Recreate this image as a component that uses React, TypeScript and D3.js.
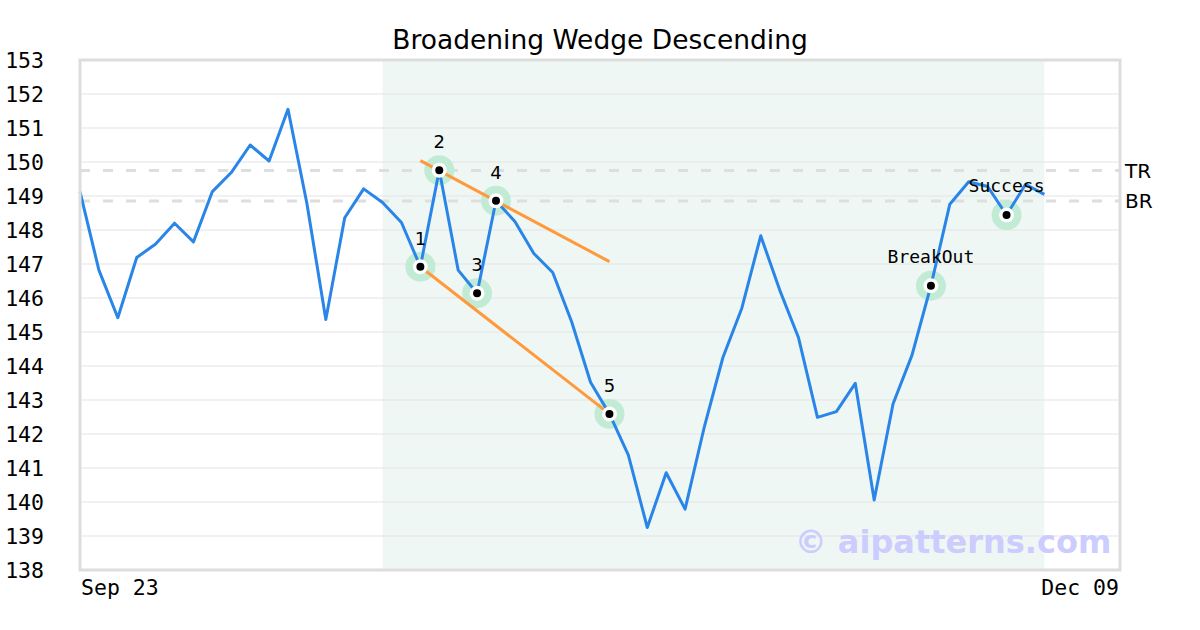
import React from "react";
import * as d3 from "d3";

const title = "Broadening Wedge Descending";
const prices = [
  149.13, 146.82, 145.42, 147.19, 147.59, 148.2, 147.65, 149.13, 149.69, 150.5,
  150.03, 151.55, 148.78, 145.37, 148.36, 149.21, 148.81, 148.22, 146.92, 149.76,
  146.82, 146.14, 148.86, 148.25, 147.31, 146.75, 145.3, 143.52, 142.59, 141.38,
  139.25, 140.86, 139.79, 142.17, 144.25, 145.7, 147.83, 146.24, 144.83, 142.49,
  142.66, 143.49, 140.06, 142.89, 144.32, 146.36, 148.76, 149.42, 149.28, 148.44,
  149.34, 149.05,
];
const totalSlots = 55;
const dateLabels = ["Sep 23", "Dec 09"];
const yTicks = [138, 139, 140, 141, 142, 143, 144, 145, 146, 147, 148, 149, 150, 151, 152, 153];
const highlightRange = [16, 51];
const pivotIdx = [18, 19, 21, 22, 28];
const pivotLabels = ["1", "2", "3", "4", "5"];
const eventIdx = [45, 49];
const eventLabels = ["BreakOut", "Success"];
const upperLine = [
  [18, 150.04],
  [28, 147.07],
];
const lowerLine = [
  [18, 146.92],
  [28, 142.59],
];
const refLevels = [149.75, 148.85];
const refLabels = ["TR", "BR"];

export default function App() {
  const W = 1200,
    H = 630;
  const L = 80,
    R = 1120,
    T = 60,
    B = 570;
  const x = d3.scaleLinear().domain([0, totalSlots]).range([L, R]);
  const y = d3.scaleLinear().domain([138, 153]).range([B, T]);
  const line = d3
    .line<number>()
    .x((_, i) => x(i))
    .y((d) => y(d));
  const seg = d3
    .line<number[]>()
    .x((d) => x(d[0]))
    .y((d) => y(d[1]));
  const sans = "DejaVu Sans, sans-serif";
  const mono = "DejaVu Sans Mono, monospace";
  const markers = [...pivotIdx, ...eventIdx];
  return (
    <svg width={W} height={H} style={{ position: "absolute", left: 0, top: 0, background: "#fff" }}>
      <rect x={0} y={0} width={W} height={H} fill="#fff" />
      <text x={600} y={49} textAnchor="middle" fontFamily={sans} fontSize={26.5} fill="#000">
        {title}
      </text>
      <rect
        x={x(highlightRange[0])}
        y={T}
        width={x(highlightRange[1]) - x(highlightRange[0])}
        height={B - T}
        fill="#eff7f4"
      />
      {yTicks.map((t) => (
        <g key={t}>
          {t !== 138 && t !== 153 && (
            <line x1={L} x2={R} y1={y(t)} y2={y(t)} stroke="#e3e3e3" strokeWidth={1} />
          )}
          <text x={44} y={y(t)} dy="0.35em" textAnchor="end" fontFamily={mono} fontSize={21.5} fill="#000">
            {t}
          </text>
        </g>
      ))}
      {refLevels.map((v, i) => (
        <g key={i}>
          <line
            x1={L}
            x2={R}
            y1={y(v)}
            y2={y(v)}
            stroke="#dedede"
            strokeWidth={3}
            strokeDasharray="10,13"
          />
          <text x={1125} y={y(v)} dy="0.35em" fontFamily={sans} fontSize={20} fill="#000">
            {refLabels[i]}
          </text>
        </g>
      ))}
      <text x={953} y={553} textAnchor="middle" fontFamily={sans} fontWeight="bold" fontSize={32} fill="#ccccff">
        © aipatterns.com
      </text>
      {markers.map((i) => (
        <circle key={"h" + i} cx={x(i)} cy={y(prices[i])} r={15} fill="#c2ebd6" />
      ))}
      <path d={line(prices) || ""} fill="none" stroke="#2a85e8" strokeWidth={3} strokeLinejoin="round" />
      <path d={seg(upperLine) || ""} stroke="#ff9a3c" strokeWidth={3} fill="none" />
      <path d={seg(lowerLine) || ""} stroke="#ff9a3c" strokeWidth={3} fill="none" />
      {markers.map((i) => (
        <g key={"m" + i}>
          <circle cx={x(i)} cy={y(prices[i])} r={7.5} fill="#fff" />
          <circle cx={x(i)} cy={y(prices[i])} r={4} fill="#000" />
        </g>
      ))}
      {pivotIdx.map((i, k) => (
        <text key={"p" + k} x={x(i)} y={y(prices[i]) - 22} textAnchor="middle" fontFamily={sans} fontSize={18} fill="#000">
          {pivotLabels[k]}
        </text>
      ))}
      {eventIdx.map((i, k) => (
        <text key={"e" + k} x={x(i)} y={y(prices[i]) - 23} textAnchor="middle" fontFamily={mono} fontSize={18} fill="#000">
          {eventLabels[k]}
        </text>
      ))}
      <rect x={L} y={T} width={R - L} height={B - T} fill="none" stroke="#dddddd" strokeWidth={3} />
      <text x={L + 1} y={595} fontFamily={mono} fontSize={21.5} fill="#000">
        {dateLabels[0]}
      </text>
      <text x={R - 1} y={595} textAnchor="end" fontFamily={mono} fontSize={21.5} fill="#000">
        {dateLabels[1]}
      </text>
    </svg>
  );
}
